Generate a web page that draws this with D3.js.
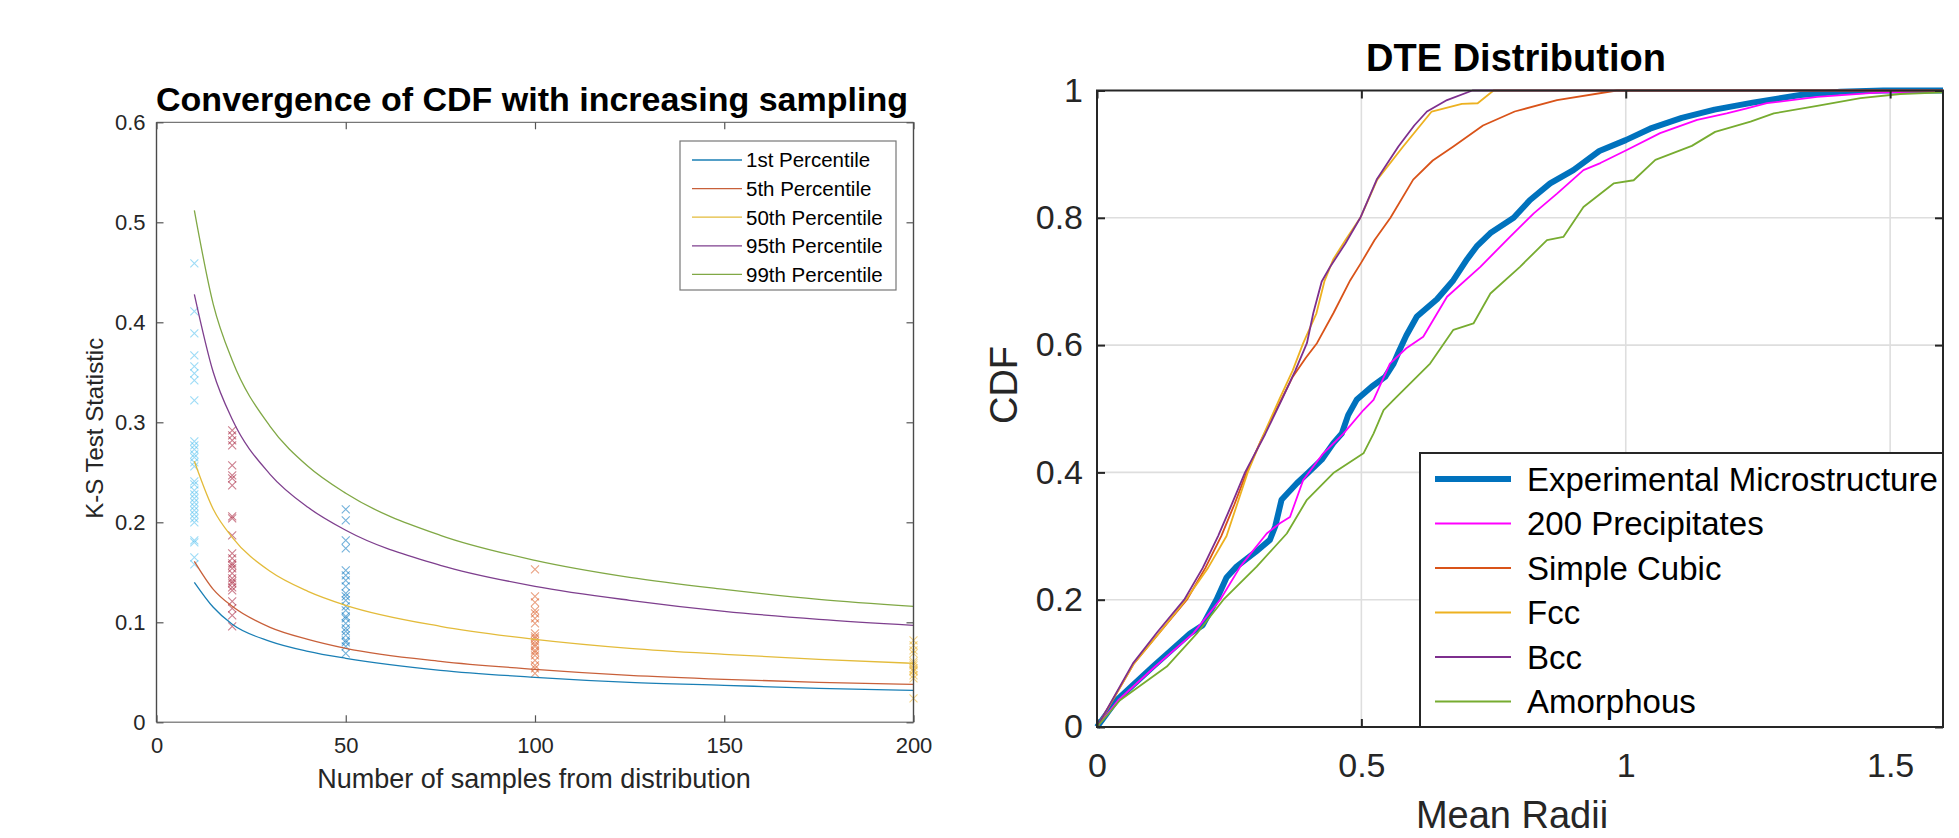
<!DOCTYPE html>
<html>
<head>
<meta charset="utf-8">
<script src="https://cdn.jsdelivr.net/npm/d3@7"></script>
<style>
  body { margin: 0; background: #fff; }
  svg { display: block; font-family: "Liberation Sans", Arial, sans-serif; }
</style>
</head>
<body>
<svg id="fig" width="1959" height="838"></svg>
<script>
// ---------- left panel: K-S statistic vs sample count ----------
const sampleSizes = [10, 15, 20, 30, 40, 50, 75, 100, 125, 150, 175, 200];
const percentileNames = ["1st Percentile", "5th Percentile", "50th Percentile", "95th Percentile", "99th Percentile"];
const p1st  = [0.140, 0.115, 0.098, 0.081, 0.071, 0.064, 0.052, 0.045, 0.040, 0.037, 0.034, 0.032];
const p5th  = [0.161, 0.133, 0.116, 0.095, 0.083, 0.074, 0.061, 0.053, 0.047, 0.043, 0.040, 0.038];
const p50th = [0.261, 0.213, 0.185, 0.151, 0.131, 0.117, 0.096, 0.083, 0.074, 0.068, 0.063, 0.059];
const p95th = [0.428, 0.350, 0.303, 0.248, 0.215, 0.192, 0.157, 0.136, 0.122, 0.111, 0.103, 0.097];
const p99th = [0.512, 0.418, 0.362, 0.296, 0.256, 0.229, 0.187, 0.162, 0.145, 0.133, 0.123, 0.116];
const percentileColors = ["#1a7fb5", "#c8603a", "#e3bb3a", "#7e3f8e", "#80a845"];

// sampled K-S statistics at each sample count
const scatterSizes = [10, 20, 50, 100, 200];
const ks10 = [0.459, 0.411, 0.389, 0.367, 0.356, 0.349, 0.342, 0.322, 0.281, 0.277, 0.273, 0.268, 0.265,
              0.260, 0.256, 0.241, 0.238, 0.232, 0.228, 0.224, 0.220, 0.216, 0.212, 0.208, 0.204, 0.200,
              0.182, 0.180, 0.165, 0.158];
const ks20 = [0.292, 0.287, 0.282, 0.277, 0.257, 0.247, 0.244, 0.237, 0.206, 0.204, 0.187, 0.169, 0.164,
              0.159, 0.157, 0.154, 0.149, 0.144, 0.141, 0.139, 0.135, 0.132, 0.121, 0.114, 0.107, 0.096];
const ks50 = [0.213, 0.202, 0.182, 0.174, 0.152, 0.147, 0.142, 0.136, 0.129, 0.126, 0.122, 0.116, 0.112,
              0.106, 0.104, 0.099, 0.094, 0.091, 0.087, 0.082, 0.080, 0.076, 0.069];
const ks100 = [0.153, 0.126, 0.120, 0.112, 0.109, 0.104, 0.099, 0.089, 0.086, 0.084, 0.081, 0.078, 0.076,
               0.072, 0.070, 0.067, 0.062, 0.057, 0.054, 0.049];
const ks200 = [0.082, 0.077, 0.072, 0.069, 0.061, 0.059, 0.057, 0.054, 0.052, 0.051, 0.047, 0.044, 0.024];
const scatterColors = ["#4DBEEE", "#A2142F", "#0072BD", "#D95319", "#EDB120"];

const leftXTicks = [0, 50, 100, 150, 200];
const leftYTicks = [0, 0.1, 0.2, 0.3, 0.4, 0.5, 0.6];

// ---------- right panel: DTE distribution CDFs ----------
const dteNames = ["Experimental Microstructure", "200 Precipitates", "Simple Cubic", "Fcc", "Bcc", "Amorphous"];
const dteColors = ["#0072BD", "#FF00FF", "#D95319", "#EDB120", "#7E2F8E", "#77AC30"];
const experimental = [[0, 0], [0.037, 0.042], [0.106, 0.095], [0.14, 0.12], [0.176, 0.147], [0.20, 0.16],
  [0.226, 0.2], [0.245, 0.235], [0.264, 0.252], [0.30, 0.275], [0.327, 0.294], [0.337, 0.315],
  [0.349, 0.357], [0.378, 0.383], [0.40, 0.40], [0.425, 0.42], [0.447, 0.446], [0.463, 0.461],
  [0.475, 0.49], [0.491, 0.514], [0.52, 0.535], [0.545, 0.55], [0.561, 0.571], [0.572, 0.592],
  [0.585, 0.615], [0.605, 0.645], [0.643, 0.672], [0.674, 0.702], [0.70, 0.735], [0.718, 0.755],
  [0.744, 0.776], [0.788, 0.80], [0.819, 0.828], [0.857, 0.854], [0.901, 0.875], [0.950, 0.905],
  [1.0, 0.922], [1.046, 0.940], [1.106, 0.957], [1.168, 0.970], [1.240, 0.981], [1.33, 0.993],
  [1.406, 0.998], [1.487, 1.0], [1.6, 1.0]];
const precipitates200 = [[0, 0], [0.04, 0.042], [0.11, 0.095], [0.182, 0.147], [0.233, 0.2], [0.271, 0.252],
  [0.321, 0.304], [0.346, 0.32], [0.365, 0.330], [0.390, 0.388], [0.428, 0.43], [0.466, 0.461],
  [0.504, 0.498], [0.523, 0.514], [0.554, 0.571], [0.585, 0.595], [0.617, 0.613], [0.662, 0.676],
  [0.725, 0.723], [0.781, 0.770], [0.826, 0.807], [0.870, 0.838], [0.920, 0.875], [0.952, 0.886],
  [1.002, 0.9065], [1.065, 0.933], [1.135, 0.954], [1.191, 0.964], [1.229, 0.972], [1.267, 0.98],
  [1.362, 0.99], [1.475, 0.9966], [1.6, 0.999]];
const simpleCubic = [[0, 0], [0.07, 0.1], [0.12, 0.15], [0.17, 0.2], [0.205, 0.25], [0.235, 0.3],
  [0.26, 0.35], [0.283, 0.4], [0.31, 0.45], [0.34, 0.5], [0.37, 0.55], [0.395, 0.58], [0.416, 0.603],
  [0.447, 0.65], [0.479, 0.702], [0.50, 0.73], [0.525, 0.765], [0.555, 0.80], [0.598, 0.86],
  [0.635, 0.89], [0.674, 0.912], [0.73, 0.945], [0.79, 0.967], [0.87, 0.985], [0.983, 1.0], [1.6, 1.0]];
const fcc = [[0, 0], [0.07, 0.1], [0.12, 0.15], [0.168, 0.2], [0.21, 0.25], [0.245, 0.3], [0.265, 0.35],
  [0.285, 0.4], [0.31, 0.45], [0.345, 0.515], [0.37, 0.56], [0.39, 0.603], [0.415, 0.65], [0.43, 0.7],
  [0.447, 0.735], [0.47, 0.765], [0.498, 0.8], [0.53, 0.86], [0.579, 0.912], [0.633, 0.967],
  [0.69, 0.979], [0.72, 0.98], [0.75, 1.0], [1.6, 1.0]];
const bcc = [[0, 0], [0.068, 0.1], [0.115, 0.15], [0.165, 0.2], [0.2, 0.25], [0.229, 0.3], [0.255, 0.35],
  [0.28, 0.4], [0.318, 0.46], [0.35, 0.515], [0.375, 0.56], [0.397, 0.603], [0.409, 0.65], [0.425, 0.7],
  [0.441, 0.723], [0.47, 0.76], [0.498, 0.8], [0.529, 0.86], [0.57, 0.912], [0.6, 0.945], [0.624, 0.967],
  [0.662, 0.985], [0.71, 1.0], [1.6, 1.0]];
const amorphous = [[0, 0], [0.0435, 0.042], [0.132, 0.095], [0.189, 0.147], [0.239, 0.2], [0.302, 0.252],
  [0.359, 0.304], [0.397, 0.357], [0.447, 0.399], [0.504, 0.43], [0.523, 0.461], [0.542, 0.498],
  [0.561, 0.514], [0.630, 0.571], [0.674, 0.624], [0.712, 0.634], [0.744, 0.681], [0.80, 0.723],
  [0.851, 0.765], [0.882, 0.77], [0.920, 0.817], [0.977, 0.854], [1.015, 0.859], [1.056, 0.891],
  [1.125, 0.913], [1.169, 0.935], [1.236, 0.951], [1.280, 0.964], [1.362, 0.976], [1.444, 0.988],
  [1.519, 0.9945], [1.6, 0.997]];
const rightXTicks = [0, 0.5, 1, 1.5];
const rightYTicks = [0, 0.2, 0.4, 0.6, 0.8, 1];

const svg = d3.select("#fig");

// ================= LEFT PANEL =================
const L = { left: 156.5, right: 913.5, top: 122.3, bottom: 722.3 };
const xL = d3.scaleLinear().domain([0, 200]).range([L.left, L.right]);
const yL = d3.scaleLinear().domain([0, 0.6]).range([L.bottom, L.top]);
const left = svg.append("g");

// scatter crosses
const crossGroups = [ks10, ks20, ks50, ks100, ks200];
crossGroups.forEach((vals, i) => {
  const g = left.append("g")
    .attr("stroke", scatterColors[i])
    .attr("stroke-width", 1.1)
    .attr("stroke-opacity", 0.55);
  vals.forEach(v => {
    const cx = xL(scatterSizes[i]), cy = yL(v), r = 4;
    g.append("path").attr("d", `M${cx - r},${cy - r}L${cx + r},${cy + r}M${cx - r},${cy + r}L${cx + r},${cy - r}`);
  });
});

// fitted percentile curves
const percentileSeries = [p1st, p5th, p50th, p95th, p99th];
const lineL = d3.line()
  .x((d, i) => xL(sampleSizes[i]))
  .y(d => yL(d))
  .curve(d3.curveMonotoneX);
percentileSeries.forEach((s, i) => {
  left.append("path")
    .datum(s)
    .attr("fill", "none")
    .attr("stroke", percentileColors[i])
    .attr("stroke-width", 1.3)
    .attr("d", lineL);
});

// axes box
left.append("line").attr("x1", L.left).attr("x2", L.right).attr("y1", L.bottom).attr("y2", L.bottom)
  .attr("stroke", "#8a8a8a").attr("stroke-width", 1.6);
left.append("line").attr("x1", L.left).attr("x2", L.right).attr("y1", L.top).attr("y2", L.top)
  .attr("stroke", "#777").attr("stroke-width", 1.2);
left.append("line").attr("x1", L.left).attr("x2", L.left).attr("y1", L.top).attr("y2", L.bottom)
  .attr("stroke", "#4a4a4a").attr("stroke-width", 1.4);
left.append("line").attr("x1", L.right).attr("x2", L.right).attr("y1", L.top).attr("y2", L.bottom)
  .attr("stroke", "#4a4a4a").attr("stroke-width", 1.4);

const styleAxis = (g, size) => {
  g.select(".domain").remove();
  g.selectAll(".tick line").attr("stroke", "#555").attr("stroke-width", 1.2);
  g.selectAll(".tick text").attr("fill", "#262626").style("font-size", size + "px");
};

left.append("g").attr("transform", `translate(0,${L.bottom})`)
  .call(d3.axisBottom(xL).tickValues(leftXTicks).tickFormat(d3.format("d")).tickSizeInner(-7).tickSizeOuter(0).tickPadding(15))
  .call(g => styleAxis(g, 22));
left.append("g").attr("transform", `translate(0,${L.top})`)
  .call(d3.axisTop(xL).tickValues(leftXTicks).tickFormat("").tickSizeInner(-7).tickSizeOuter(0))
  .call(g => styleAxis(g, 22));
left.append("g").attr("transform", `translate(${L.left},0)`)
  .call(d3.axisLeft(yL).tickValues(leftYTicks).tickFormat(d => d === 0 ? "0" : d3.format(".1f")(d)).tickSizeInner(-7).tickSizeOuter(0).tickPadding(11))
  .call(g => styleAxis(g, 22));
left.append("g").attr("transform", `translate(${L.right},0)`)
  .call(d3.axisRight(yL).tickValues(leftYTicks).tickFormat("").tickSizeInner(-7).tickSizeOuter(0))
  .call(g => styleAxis(g, 22));

left.append("text")
  .attr("x", (L.left + L.right) / 2 - 3).attr("y", 111)
  .attr("text-anchor", "middle").attr("font-weight", "bold")
  .style("font-size", "34px").attr("fill", "#000")
  .text("Convergence of CDF with increasing sampling");
left.append("text")
  .attr("x", (L.left + L.right) / 2 - 1).attr("y", 788)
  .attr("text-anchor", "middle").style("font-size", "27px").attr("fill", "#262626")
  .text("Number of samples from distribution");
left.append("text")
  .attr("transform", `translate(103,${(L.top + L.bottom) / 2 + 6}) rotate(-90)`)
  .attr("text-anchor", "middle").style("font-size", "24px").attr("fill", "#262626")
  .text("K-S Test Statistic");

// left legend
const legL = left.append("g");
legL.append("rect").attr("x", 680).attr("y", 141).attr("width", 216).attr("height", 149)
  .attr("fill", "#fff").attr("stroke", "#777").attr("stroke-width", 1.2);
percentileNames.forEach((name, i) => {
  const yy = 160 + i * 28.6;
  legL.append("line").attr("x1", 692).attr("x2", 742).attr("y1", yy).attr("y2", yy)
    .attr("stroke", percentileColors[i]).attr("stroke-width", 1.3);
  legL.append("text").attr("x", 746).attr("y", yy).attr("dy", "0.36em")
    .style("font-size", "20.5px").attr("fill", "#000").text(name);
});

// ================= RIGHT PANEL =================
const R = { left: 1097, right: 1943, top: 90.5, bottom: 727 };
const xR = d3.scaleLinear().domain([0, 1.6]).range([R.left, R.right]);
const yR = d3.scaleLinear().domain([0, 1]).range([R.bottom, R.top]);
const right = svg.append("g");

// grid
right.append("g").selectAll("line").data(rightXTicks.filter(d => d > 0)).join("line")
  .attr("x1", d => xR(d)).attr("x2", d => xR(d)).attr("y1", R.top).attr("y2", R.bottom)
  .attr("stroke", "#dedede").attr("stroke-width", 1.6);
right.append("g").selectAll("line").data(rightYTicks.filter(d => d > 0 && d < 1)).join("line")
  .attr("x1", R.left).attr("x2", R.right).attr("y1", d => yR(d)).attr("y2", d => yR(d))
  .attr("stroke", "#dedede").attr("stroke-width", 1.6);

const dteSeries = [experimental, precipitates200, simpleCubic, fcc, bcc, amorphous];
const lineR = d3.line().x(d => xR(d[0])).y(d => yR(d[1]));
dteSeries.forEach((s, i) => {
  right.append("path")
    .datum(s)
    .attr("fill", "none")
    .attr("stroke", dteColors[i])
    .attr("stroke-width", i === 0 ? 6 : 1.8)
    .attr("stroke-linejoin", "round")
    .attr("d", lineR);
});

// axes box
right.append("rect").attr("x", R.left).attr("y", R.top)
  .attr("width", R.right - R.left).attr("height", R.bottom - R.top)
  .attr("fill", "none").attr("stroke", "#262626").attr("stroke-width", 2);

const styleAxisR = g => {
  g.select(".domain").remove();
  g.selectAll(".tick line").attr("stroke", "#262626").attr("stroke-width", 2);
  g.selectAll(".tick text").attr("fill", "#262626").style("font-size", "34px");
};
right.append("g").attr("transform", `translate(0,${R.bottom})`)
  .call(d3.axisBottom(xR).tickValues(rightXTicks).tickFormat(d3.format("")).tickSizeInner(-8).tickSizeOuter(0).tickPadding(26))
  .call(styleAxisR);
right.append("g").attr("transform", `translate(0,${R.top})`)
  .call(d3.axisTop(xR).tickValues(rightXTicks).tickFormat("").tickSizeInner(-8).tickSizeOuter(0))
  .call(styleAxisR);
right.append("g").attr("transform", `translate(${R.left},0)`)
  .call(d3.axisLeft(yR).tickValues(rightYTicks).tickFormat(d3.format("")).tickSizeInner(-8).tickSizeOuter(0).tickPadding(14))
  .call(styleAxisR);
right.append("g").attr("transform", `translate(${R.right},0)`)
  .call(d3.axisRight(yR).tickValues(rightYTicks).tickFormat("").tickSizeInner(-8).tickSizeOuter(0))
  .call(styleAxisR);

right.append("text")
  .attr("x", 1516).attr("y", 71)
  .attr("text-anchor", "middle").attr("font-weight", "bold")
  .style("font-size", "38px").attr("fill", "#000")
  .text("DTE Distribution");
right.append("text")
  .attr("x", 1512).attr("y", 828)
  .attr("text-anchor", "middle").style("font-size", "38px").attr("fill", "#262626")
  .text("Mean Radii");
right.append("text")
  .attr("transform", `translate(1017,385) rotate(-90)`)
  .attr("text-anchor", "middle").style("font-size", "38px").attr("fill", "#262626")
  .text("CDF");

// right legend
const legR = right.append("g");
legR.append("rect").attr("x", 1420).attr("y", 453).attr("width", R.right - 1420).attr("height", R.bottom - 453)
  .attr("fill", "#fff").attr("stroke", "#262626").attr("stroke-width", 2);
dteNames.forEach((name, i) => {
  const yy = 479 + i * 44.5;
  legR.append("line").attr("x1", 1435).attr("x2", 1511).attr("y1", yy).attr("y2", yy)
    .attr("stroke", dteColors[i]).attr("stroke-width", i === 0 ? 6 : 1.8);
  legR.append("text").attr("x", 1527).attr("y", yy).attr("dy", "0.36em")
    .style("font-size", "33px").attr("fill", "#000").text(name);
});
</script>
</body>
</html>
